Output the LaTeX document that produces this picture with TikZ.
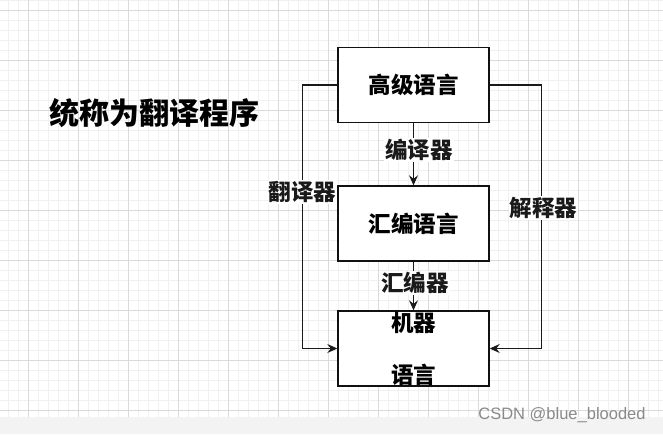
\documentclass[tikz,border=0pt]{standalone}
\usepackage{fontspec}
\setmainfont{Noto Sans CJK SC}
\newfontfamily\marksans{Liberation Sans}
\usetikzlibrary{arrows.meta}
\definecolor{ink}{HTML}{111111}
\definecolor{wire}{HTML}{1A1A1A}
\definecolor{gridmin}{HTML}{F0F0F0}
\definecolor{gridmaj}{HTML}{DADADA}
\definecolor{stripbg}{HTML}{F3F3F3}
\definecolor{markgray}{HTML}{8A8A8A}
\tikzset{
  langbox/.style={draw=ink,fill=white,line width=1.4pt,inner sep=0pt,
                  minimum width=151pt,minimum height=75pt,align=center,
                  font=\fontsize{22.5}{27}\selectfont\bfseries},
  tag/.style={fill=white,inner sep=1pt,
              font=\fontsize{22.5}{27}\selectfont\bfseries},
  wirearrow/.style={-{Stealth[length=10pt,width=9pt,inset=3.5pt]},
                    line width=1.3pt,wire},
}

\begin{document}
\begin{tikzpicture}[x=1pt,y=-1pt]
  \useasboundingbox (0,0) rectangle (663,434);

  % Grid paper
  \fill[white](0,0)rectangle(663,417);
  \foreach \x in {8,18,...,658}
    \draw[gridmin,line width=0.6pt](\x,0)--(\x,417);
  \foreach \y in {0,10,...,410}
    \draw[gridmin,line width=0.6pt](0,\y)--(663,\y);
  \foreach \x in {28,78,...,628}
    \draw[gridmaj,line width=0.7pt](\x,0)--(\x,417);
  \foreach \y in {10,60,...,410}
    \draw[gridmaj,line width=0.7pt](0,\y)--(663,\y);
  \fill[stripbg](0,417)rectangle(663,434);

  % Title
  \node[font=\fontsize{30}{35}\selectfont\bfseries](title)at(154,113)
    {统称为翻译程序};

  % Language boxes
  \node[langbox](high)at(413.5,85){高级语言};
  \node[langbox](asm)at(413.5,223.5){汇编语言};
  \node[langbox](mach)at(413.5,348.5){机器\\[25pt]语言};

  % Translators
  \draw[wirearrow](high.south)--node[tag,xshift=5.5pt,yshift=4.5pt]{编译器}
    (asm.north);
  \draw[wirearrow](asm.south)--node[tag,xshift=1.5pt,yshift=3pt]{汇编器}
    (mach.north);
  \draw[wirearrow](high.west)--++(-35,0)
    |-node[tag,pos=0.203]{翻译器}(mach.west);
  \draw[wirearrow](high.east)--++(52,0)
    |-node[tag,pos=0.233,xshift=2pt]{解释器}(mach.east);

  % Watermark
  \node[font=\marksans\fontsize{16.5}{19}\selectfont,markgray](mark)
    at(562,415){CSDN @blue\_blooded};
\end{tikzpicture}
\end{document}
